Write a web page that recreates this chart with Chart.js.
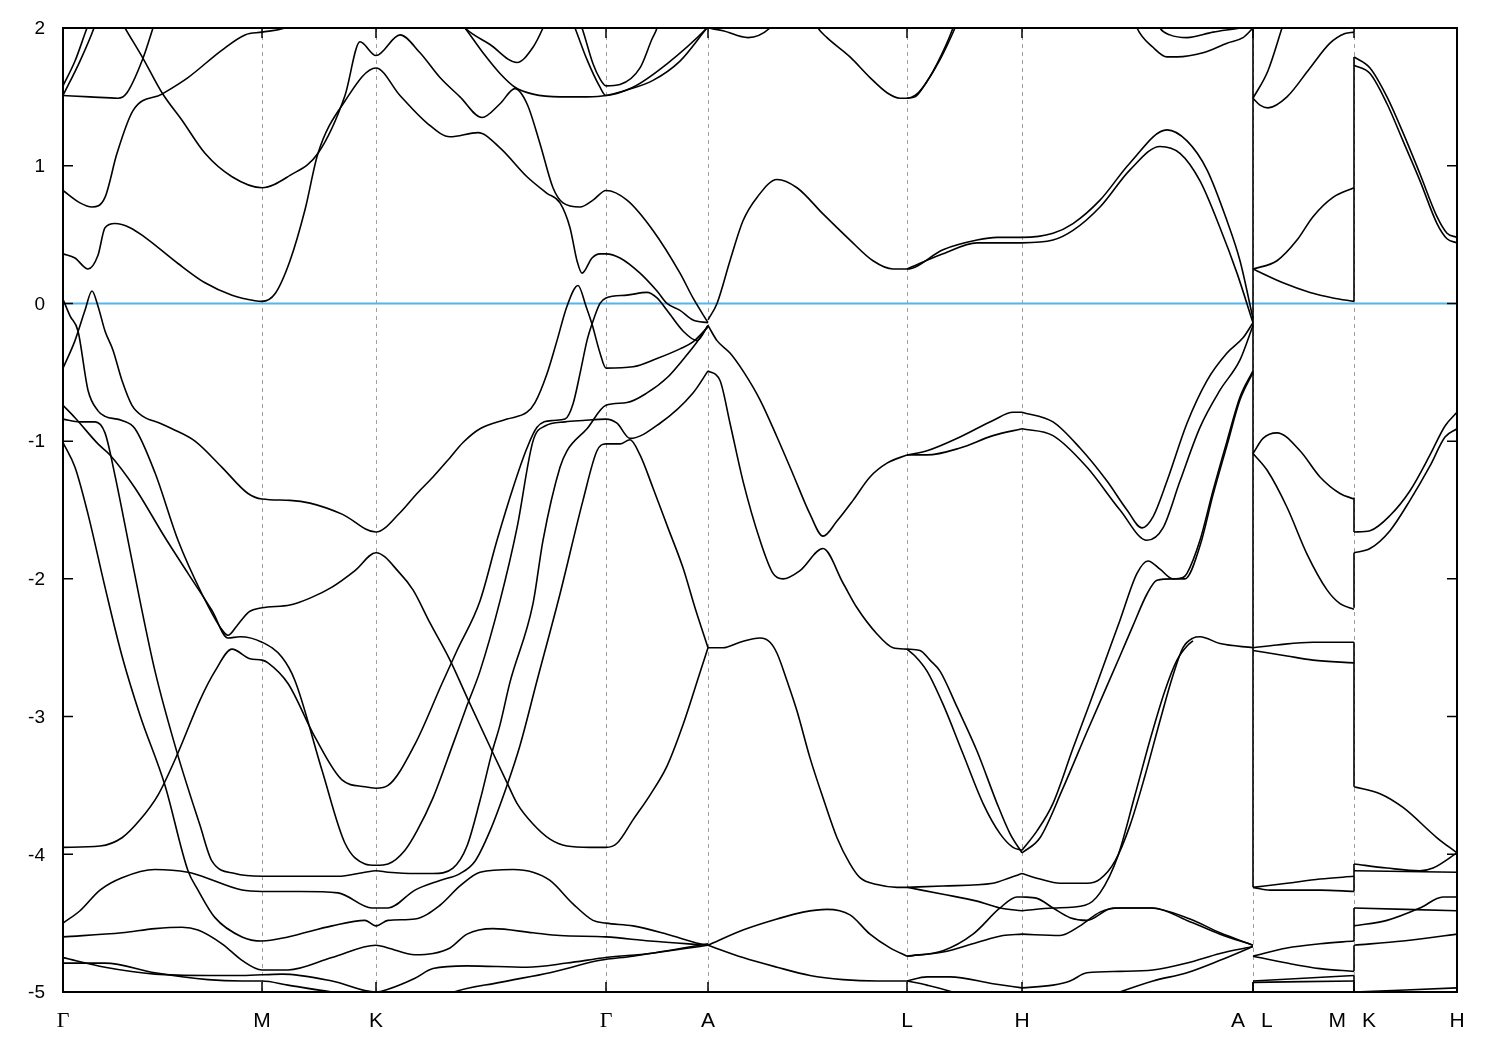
<!DOCTYPE html>
<html>
<head>
<meta charset="utf-8">
<title>Band structure</title>
<script src="https://cdn.jsdelivr.net/npm/chart.js@4.4.1/dist/chart.umd.min.js"></script>
<style>
  html, body { margin: 0; padding: 0; background: #fff; }
  canvas { display: block; }
</style>
</head>
<body>
<canvas id="bands" width="1500" height="1050"></canvas>
<script>
// k-path (arbitrary path units) and labels
const kPoints = [0, 1.99, 3.13, 5.43, 6.45, 8.44, 9.59, 11.90, 12.91, 13.94];
const kLabels = ['Γ', 'M', 'K', 'Γ', 'A', 'L', 'H', 'A L', 'M K', 'H'];
const yTicks = [2, 1, 0, -1, -2, -3, -4, -5];
const fermiLevel = 0;

// discontinuities of the path: energies joined by vertical jumps
const alBreak = 11.90;
const alJumps = [[2.0, -4.24], [-4.93, -5.0]];
const mkBreak = 12.91;
const mkJumps = [[1.79, 0.015], [-1.41, -1.66], [-1.81, -2.21], [-2.46, -3.51],
                 [-4.07, -4.27], [-4.39, -4.63], [-4.66, -4.85], [-4.88, -5.0]];

// bands as [k, E] pairs (eV)
// Γ–M–K–Γ–A, above the Fermi level
const b01 = [[0,1.58],[0.12,1.76],[0.24,2.0],[0.29,2.09]];
const b02 = [[0,1.51],[0.17,1.76],[0.31,2.0],[0.35,2.09]];
const b03 = [[0,1.51],[0.27,1.50],[0.55,1.49],[0.64,1.53],[0.80,1.78],[0.90,2.0],[0.94,2.09]];
const b04 = [[0.55,2.09],[0.62,2.0],[0.80,1.78],[0.99,1.53],[1.19,1.33],[1.42,1.09],[1.69,0.92],[1.99,0.84],
  [2.27,0.93],[2.55,1.09],[2.82,1.51],[2.97,1.90],[3.13,1.80],[3.37,1.95],[3.57,1.82],[3.77,1.64],[3.97,1.50],
  [4.19,1.35],[4.37,1.45],[4.52,1.56],[4.64,1.45],[4.77,1.16],[4.90,0.84],[5.00,0.73],[5.17,0.70],[5.30,0.75],
  [5.43,0.82],[5.64,0.75],[5.90,0.53],[6.17,0.22],[6.30,0.04],[6.45,-0.14]];
const b05 = [[0,0.82],[0.17,0.73],[0.29,0.70],[0.42,0.77],[0.54,1.09],[0.70,1.40],[0.99,1.52],[1.25,1.64],
  [1.59,1.84],[1.82,1.95],[1.99,1.97],[2.22,2.0],[2.37,2.05]];
const b06 = [[0,0.36],[0.12,0.33],[0.25,0.25],[0.35,0.35],[0.42,0.55],[0.52,0.58],[0.67,0.55],[0.82,0.48],
  [1.15,0.29],[1.42,0.15],[1.69,0.06],[1.92,0.02],[1.99,0.015],[2.12,0.07],[2.27,0.31],[2.42,0.68],[2.55,1.09],
  [2.82,1.47],[3.13,1.71],[3.37,1.51],[3.64,1.31],[3.87,1.21],[4.15,1.24],[4.37,1.13],[4.64,0.92],[4.84,0.80],
  [4.97,0.73],[5.07,0.55],[5.14,0.31],[5.19,0.22],[5.29,0.33],[5.37,0.36],[5.43,0.36],[5.57,0.33],[5.77,0.22],
  [5.94,0.09],[6.04,0.0],[6.17,-0.05],[6.30,-0.12],[6.45,-0.14]];
const b07 = [[3.92,2.09],[4.02,2.0],[4.27,1.88],[4.54,1.75],[4.70,1.86],[4.80,2.0],[4.85,2.09]];
const b08 = [[3.92,2.09],[4.02,2.0],[4.20,1.82],[4.37,1.67],[4.52,1.57],[4.70,1.52],[4.97,1.50],[5.24,1.50],
  [5.43,1.51],[5.70,1.57],[6.04,1.74],[6.44,2.0],[6.50,2.05]];
const b09 = [[5.07,2.09],[5.12,2.0],[5.24,1.77],[5.37,1.57],[5.43,1.51],[5.64,1.55],[5.90,1.62],[6.17,1.76],
  [6.44,2.0],[6.50,2.05]];
const b10 = [[5.14,2.09],[5.19,2.0],[5.30,1.74],[5.37,1.63],[5.43,1.58],[5.57,1.59],[5.77,1.71],[5.89,1.92],
  [5.94,2.0],[5.97,2.09]];

// A–L–H–A, above the Fermi level
const b11 = [[6.45,2.0],[6.60,1.98],[6.85,1.93],[7.07,2.0],[7.12,2.05]];
const b12 = [[7.49,2.09],[7.55,2.0],[7.64,1.93],[7.87,1.79],[8.07,1.64],[8.24,1.53],[8.37,1.49],[8.44,1.49],
  [8.52,1.51],[8.60,1.57],[8.74,1.74],[8.90,2.0],[8.94,2.09]];
const b13 = [[8.44,1.49],[8.52,1.50],[8.62,1.59],[8.77,1.77],[8.92,2.0],[8.97,2.09]];
const b14 = [[6.45,-0.12],[6.54,0.0],[6.67,0.31],[6.80,0.60],[6.94,0.77],[7.14,0.90],[7.34,0.84],[7.60,0.65],
  [7.87,0.46],[8.10,0.31],[8.30,0.25],[8.44,0.25],[8.80,0.39],[9.14,0.46],[9.34,0.48],[9.59,0.48],[9.90,0.51],
  [10.10,0.58],[10.37,0.75],[10.67,1.02],[11.04,1.26],[11.24,1.18],[11.44,0.97],[11.64,0.60],[11.77,0.31],
  [11.90,-0.11]];
const b15 = [[8.44,0.25],[8.80,0.36],[9.14,0.44],[9.59,0.44],[9.90,0.46],[10.10,0.53],[10.37,0.70],[10.67,0.97],
  [10.97,1.14],[11.17,1.09],[11.37,0.89],[11.57,0.55],[11.74,0.22],[11.90,-0.14]];
const b41 = [[10.70,2.09],[10.74,2.0],[10.90,1.86],[11.04,1.79],[11.14,1.79],[11.40,1.82],[11.64,1.89],
  [11.80,1.93],[11.90,2.0]];
const b42 = [[10.92,2.09],[10.97,2.0],[11.07,1.95],[11.24,1.93],[11.50,1.97],[11.77,2.0],[11.90,2.02]];

// A–L–H–A, below the Fermi level
const b16 = [[6.45,-0.16],[6.54,-0.27],[6.67,-0.36],[6.80,-0.49],[6.97,-0.70],[7.14,-0.97],[7.30,-1.24],
  [7.47,-1.53],[7.60,-1.69],[7.74,-1.58],[7.90,-1.43],[8.07,-1.26],[8.24,-1.16],[8.44,-1.10]];
const b17 = [[6.45,-0.49],[6.57,-0.56],[6.67,-0.87],[6.80,-1.29],[6.97,-1.72],[7.10,-1.96],[7.20,-2.0],
  [7.37,-1.94],[7.60,-1.78],[7.80,-2.03],[7.94,-2.21],[8.14,-2.40],[8.30,-2.50],[8.44,-2.51]];
const b18 = [[8.44,-1.10],[8.64,-1.07],[8.97,-0.97],[9.30,-0.85],[9.50,-0.79],[9.59,-0.79]];
const b19 = [[8.44,-1.10],[8.64,-1.10],[8.97,-1.05],[9.30,-0.96],[9.59,-0.91]];
const b20 = [[9.59,-0.79],[9.90,-0.86],[10.17,-1.05],[10.44,-1.29],[10.64,-1.50],[10.79,-1.63],[10.90,-1.55],
  [11.04,-1.29],[11.24,-0.87],[11.44,-0.56],[11.64,-0.36],[11.80,-0.25],[11.90,-0.14]];
const b21 = [[9.59,-0.91],[9.90,-0.96],[10.24,-1.19],[10.57,-1.50],[10.84,-1.72],[11.00,-1.63],[11.17,-1.29],
  [11.37,-0.90],[11.57,-0.63],[11.77,-0.41],[11.90,-0.16]];
const b22 = [[8.44,-2.51],[8.52,-2.56],[8.64,-2.67],[8.80,-2.91],[9.00,-3.27],[9.20,-3.63],[9.37,-3.85],
  [9.50,-3.95],[9.59,-3.97]];
const b23 = [[8.44,-2.51],[8.57,-2.52],[8.67,-2.59],[8.77,-2.67],[8.94,-2.93],[9.14,-3.25],[9.34,-3.63],
  [9.47,-3.85],[9.59,-3.99]];
const b24 = [[9.59,-3.97],[9.74,-3.83],[9.90,-3.63],[10.10,-3.23],[10.27,-2.90],[10.40,-2.64],[10.57,-2.30],
  [10.74,-1.96],[10.85,-1.87],[10.97,-1.93],[11.10,-2.0],[11.20,-1.99],[11.24,-1.96],[11.37,-1.72],[11.50,-1.36],
  [11.64,-1.0],[11.77,-0.68],[11.90,-0.49]];
const b25 = [[9.59,-3.99],[9.77,-3.88],[10.00,-3.52],[10.24,-3.11],[10.57,-2.56],[10.70,-2.34],[10.84,-2.11],
  [10.94,-2.01],[11.10,-2.0],[11.22,-2.0],[11.37,-1.76],[11.50,-1.39],[11.64,-1.03],[11.77,-0.70],[11.90,-0.50]];
const b26 = [[6.45,-2.50],[6.60,-2.50],[6.77,-2.46],[6.97,-2.43],[7.07,-2.46],[7.14,-2.54],[7.24,-2.74],
  [7.34,-2.96],[7.47,-3.30],[7.60,-3.59],[7.74,-3.88],[7.87,-4.07],[7.97,-4.17],[8.14,-4.22],[8.34,-4.24],
  [8.44,-4.24]];
const b27 = [[8.44,-4.24],[8.80,-4.23],[9.30,-4.21],[9.47,-4.17],[9.59,-4.14]];
const b28 = [[8.44,-4.24],[8.80,-4.29],[9.14,-4.34],[9.37,-4.39],[9.59,-4.41]];
const b29 = [[6.45,-4.66],[6.80,-4.55],[7.14,-4.47],[7.40,-4.42],[7.64,-4.40],[7.87,-4.44],[8.07,-4.58],
  [8.27,-4.68],[8.44,-4.74]];
const b30 = [[6.45,-4.66],[6.80,-4.75],[7.14,-4.82],[7.47,-4.88],[7.80,-4.91],[8.14,-4.92],[8.44,-4.92]];
const b31 = [[8.44,-4.74],[8.80,-4.70],[9.10,-4.58],[9.37,-4.39],[9.54,-4.31],[9.59,-4.31]];
const b32 = [[8.44,-4.74],[8.80,-4.71],[9.14,-4.64],[9.40,-4.59],[9.59,-4.58]];
const b33 = [[8.44,-4.92],[8.64,-4.89],[8.87,-4.89],[9.30,-4.94],[9.59,-4.97]];
const b34 = [[8.44,-4.92],[8.64,-4.95],[8.94,-5.01],[9.07,-5.05]];
const b35 = [[9.59,-4.14],[9.77,-4.18],[9.97,-4.21],[10.24,-4.21],[10.37,-4.18],[10.52,-4.05],[10.67,-3.79],
  [10.82,-3.43],[10.97,-3.03],[11.10,-2.70],[11.20,-2.50],[11.30,-2.43],[11.37,-2.42],[11.57,-2.47],[11.90,-2.50]];
const b36 = [[9.59,-4.41],[9.90,-4.39],[10.22,-4.37],[10.37,-4.28],[10.55,-4.01],[10.72,-3.57],[10.87,-3.17],
  [11.02,-2.81],[11.14,-2.59],[11.25,-2.48],[11.30,-2.45]];
const b37 = [[9.59,-4.31],[9.74,-4.32],[9.90,-4.39],[10.07,-4.46],[10.24,-4.48],[10.50,-4.39],[10.90,-4.39],
  [11.24,-4.48],[11.57,-4.58],[11.90,-4.66]];
const b38 = [[9.59,-4.58],[9.97,-4.59],[10.17,-4.52],[10.37,-4.42],[10.57,-4.39],[10.87,-4.39],[11.27,-4.47],
  [11.57,-4.57],[11.90,-4.66]];
const b39 = [[9.59,-4.97],[9.90,-4.95],[10.07,-4.92],[10.24,-4.86],[10.57,-4.85],[10.90,-4.84],[11.24,-4.79],
  [11.57,-4.72],[11.90,-4.67]];
const b40 = [[10.37,-5.05],[10.90,-4.92],[11.24,-4.86],[11.57,-4.77],[11.90,-4.67]];

// L–M
const b43 = [[11.90,1.49],[11.97,1.44],[12.05,1.42],[12.24,1.50],[12.47,1.71],[12.67,1.89],[12.82,1.96],[12.91,1.97]];
const b44 = [[11.90,1.49],[12.05,1.69],[12.19,2.0],[12.23,2.09]];
const b45 = [[11.90,0.25],[12.14,0.31],[12.34,0.46],[12.50,0.63],[12.70,0.77],[12.91,0.84]];
const b46 = [[11.90,0.25],[12.20,0.15],[12.47,0.08],[12.70,0.04],[12.91,0.015]];
const b47 = [[11.90,-1.09],[12.00,-0.98],[12.14,-0.94],[12.37,-1.07],[12.57,-1.26],[12.77,-1.38],[12.91,-1.42]];
const b48 = [[11.90,-1.09],[12.04,-1.21],[12.24,-1.48],[12.44,-1.82],[12.64,-2.08],[12.77,-2.18],[12.91,-2.22]];
const b49 = [[11.90,-2.50],[12.14,-2.48],[12.50,-2.46],[12.91,-2.46]];
const b50 = [[11.90,-2.52],[12.24,-2.56],[12.50,-2.59],[12.91,-2.61]];
const b51 = [[11.90,-4.24],[12.24,-4.21],[12.57,-4.18],[12.91,-4.16]];
const b52 = [[11.90,-4.24],[12.07,-4.26],[12.57,-4.26],[12.91,-4.27]];
const b53 = [[11.90,-4.74],[12.24,-4.68],[12.57,-4.65],[12.91,-4.63]];
const b54 = [[11.90,-4.74],[12.24,-4.79],[12.57,-4.83],[12.91,-4.85]];
const b55 = [[11.90,-4.92],[12.91,-4.88]];
const b56 = [[11.90,-4.93],[12.91,-4.92]];

// K–H
const b57 = [[12.91,1.79],[13.07,1.71],[13.24,1.50],[13.40,1.24],[13.57,0.94],[13.74,0.63],[13.84,0.51],[13.94,0.48]];
const b58 = [[12.91,1.73],[13.07,1.67],[13.24,1.45],[13.40,1.18],[13.57,0.89],[13.74,0.58],[13.84,0.47],[13.94,0.44]];
const b59 = [[12.91,-1.66],[13.07,-1.65],[13.27,-1.54],[13.47,-1.36],[13.67,-1.10],[13.82,-0.89],[13.94,-0.79]];
const b60 = [[12.91,-1.81],[13.07,-1.78],[13.27,-1.65],[13.47,-1.43],[13.67,-1.18],[13.82,-0.97],[13.94,-0.91]];
const b61 = [[12.91,-3.51],[13.17,-3.56],[13.40,-3.66],[13.74,-3.88],[13.94,-3.99]];
const b62 = [[12.91,-4.07],[13.24,-4.10],[13.57,-4.12],[13.70,-4.10],[13.94,-3.99]];
const b63 = [[12.91,-4.12],[13.94,-4.13]];
const b64 = [[12.91,-4.39],[13.94,-4.41]];
const b65 = [[12.91,-4.52],[13.24,-4.48],[13.57,-4.39],[13.80,-4.31],[13.94,-4.31]];
const b66 = [[12.91,-4.66],[13.40,-4.63],[13.94,-4.58]];
const b67 = [[12.91,-5.0],[13.94,-4.97]];

// Γ–M–K–Γ–A, below the Fermi level
const b68 = [[0,-0.47],[0.12,-0.27],[0.22,-0.05],[0.29,0.09],[0.35,-0.02],[0.42,-0.20],[0.50,-0.34],[0.59,-0.56],
  [0.69,-0.74],[0.80,-0.82],[0.97,-0.87],[1.09,-0.91],[1.32,-1.0],[1.59,-1.19],[1.85,-1.38],[1.99,-1.42],
  [2.27,-1.43],[2.47,-1.45],[2.79,-1.53],[3.13,-1.66],[3.37,-1.52],[3.54,-1.38],[3.70,-1.26],[3.87,-1.12],
  [4.00,-1.01],[4.17,-0.91],[4.44,-0.84],[4.64,-0.79],[4.72,-0.72],[4.84,-0.51],[4.94,-0.27],[5.04,-0.02],
  [5.15,0.13],[5.23,-0.02],[5.29,-0.15],[5.37,-0.36],[5.43,-0.47],[5.70,-0.46],[5.94,-0.40],[6.17,-0.33],
  [6.30,-0.28],[6.45,-0.17]];
const b69 = [[0,0.03],[0.07,-0.09],[0.15,-0.20],[0.25,-0.63],[0.35,-0.78],[0.42,-0.82],[0.59,-0.85],[0.72,-0.91],
  [0.92,-1.23],[1.15,-1.72],[1.39,-2.11],[1.58,-2.36],[1.65,-2.41],[1.74,-2.34],[1.86,-2.24],[1.99,-2.21],
  [2.27,-2.19],[2.47,-2.14],[2.69,-2.06],[2.92,-1.94],[3.13,-1.81],[3.37,-1.96],[3.50,-2.08],[3.67,-2.32],
  [3.87,-2.59],[4.04,-2.86],[4.29,-3.25],[4.44,-3.48],[4.54,-3.63],[4.70,-3.78],[4.87,-3.89],[5.04,-3.94],
  [5.27,-3.95],[5.43,-3.95],[5.54,-3.92],[5.70,-3.75],[5.87,-3.57],[6.04,-3.36],[6.20,-3.06],[6.37,-2.68],
  [6.45,-2.50]];
const b70 = [[0,-0.74],[0.12,-0.83],[0.35,-1.02],[0.47,-1.10],[0.72,-1.34],[1.02,-1.70],[1.25,-1.96],[1.49,-2.23],
  [1.65,-2.43],[1.77,-2.42],[1.99,-2.46],[2.19,-2.57],[2.32,-2.74],[2.59,-3.39],[2.82,-3.92],[3.02,-4.07],
  [3.13,-4.08],[3.25,-4.07],[3.42,-3.97],[3.54,-3.83],[3.70,-3.59],[3.90,-3.20],[4.04,-2.92],[4.17,-2.67],
  [4.37,-2.16],[4.54,-1.63],[4.70,-1.0],[4.82,-0.89],[5.02,-0.86],[5.20,-0.85],[5.43,-0.84],[5.54,-0.87],
  [5.67,-0.98],[5.97,-0.87],[6.30,-0.65],[6.45,-0.49]];
const b71 = [[0,-0.84],[0.17,-0.86],[0.32,-0.86],[0.42,-0.94],[0.52,-1.25],[0.62,-1.61],[0.77,-2.16],[0.92,-2.67],
  [1.14,-3.26],[1.37,-3.79],[1.49,-4.05],[1.72,-4.14],[1.99,-4.16],[2.37,-4.16],[2.75,-4.16],[3.02,-4.13],
  [3.13,-4.12],[3.25,-4.13],[3.52,-4.14],[3.70,-4.14],[3.90,-4.10],[4.04,-3.94],[4.17,-3.61],[4.29,-3.26],
  [4.37,-3.06],[4.47,-2.75],[4.70,-2.18],[4.80,-1.72],[4.97,-1.19],[5.04,-1.07],[5.24,-0.91],[5.43,-0.74],
  [5.64,-0.72],[5.84,-0.65],[6.04,-0.54],[6.22,-0.39],[6.34,-0.28],[6.45,-0.16]];
const b72 = [[0,-1.01],[0.12,-1.19],[0.25,-1.53],[0.42,-2.06],[0.59,-2.56],[0.77,-2.99],[1.02,-3.50],[1.25,-4.12],
  [1.35,-4.26],[1.52,-4.46],[1.79,-4.60],[1.99,-4.63],[2.25,-4.60],[2.69,-4.52],[3.02,-4.48],[3.13,-4.52],
  [3.25,-4.48],[3.52,-4.47],[3.77,-4.37],[3.97,-4.23],[4.17,-4.13],[4.50,-4.11],[4.70,-4.13],[4.87,-4.19],
  [5.10,-4.36],[5.30,-4.48],[5.43,-4.50],[5.70,-4.52],[6.04,-4.58],[6.37,-4.65],[6.45,-4.66]];
const b73 = [[0,-3.95],[0.37,-3.94],[0.59,-3.88],[0.77,-3.75],[0.95,-3.57],[1.14,-3.28],[1.37,-2.88],[1.52,-2.67],
  [1.69,-2.51],[1.87,-2.58],[1.99,-2.59],[2.05,-2.61],[2.25,-2.76],[2.52,-3.15],[2.79,-3.46],[3.02,-3.51],
  [3.13,-3.52],[3.25,-3.50],[3.52,-3.20],[3.79,-2.76],[3.94,-2.52],[4.17,-2.16],[4.34,-1.72],[4.50,-1.34],
  [4.64,-1.05],[4.74,-0.90],[4.90,-0.85],[5.02,-0.84],[5.10,-0.73],[5.17,-0.51],[5.24,-0.27],[5.29,-0.15],
  [5.37,0.0],[5.43,0.04],[5.64,0.06],[5.84,0.08],[5.94,0.04],[6.04,-0.05],[6.20,-0.20],[6.34,-0.27],[6.45,-0.16]];
const b74 = [[0,-4.50],[0.17,-4.41],[0.37,-4.26],[0.59,-4.17],[0.92,-4.11],[1.25,-4.13],[1.35,-4.15],[1.79,-4.26],
  [1.99,-4.27],[2.37,-4.27],[2.75,-4.28],[3.09,-4.39],[3.25,-4.39],[3.52,-4.26],[3.77,-4.19],[3.97,-4.14],
  [4.12,-4.05],[4.27,-3.83],[4.44,-3.50],[4.57,-3.21],[4.74,-2.74],[4.97,-2.11],[5.20,-1.43],[5.34,-1.07],
  [5.43,-1.02],[5.57,-1.02],[5.67,-0.99],[5.77,-1.10],[5.90,-1.34],[6.05,-1.63],[6.20,-1.92],[6.32,-2.21],
  [6.45,-2.50]];
const b75 = [[0,-4.60],[0.59,-4.57],[0.92,-4.54],[1.19,-4.53],[1.35,-4.55],[1.59,-4.65],[1.79,-4.77],[1.99,-4.84],
  [2.25,-4.84],[2.69,-4.75],[3.13,-4.66],[3.25,-4.68],[3.52,-4.73],[3.70,-4.72],[3.87,-4.68],[4.04,-4.58],
  [4.30,-4.54],[4.70,-4.57],[4.97,-4.59],[5.43,-4.60],[5.87,-4.63],[6.45,-4.66]];
const b76 = [[0,-4.75],[0.42,-4.82],[0.92,-4.87],[1.45,-4.88],[1.79,-4.88],[2.19,-4.87],[2.69,-4.92],[3.13,-5.0],
  [3.25,-4.98],[3.52,-4.90],[3.70,-4.83],[4.04,-4.81],[4.64,-4.82],[5.04,-4.79],[5.43,-4.75],[5.87,-4.72],
  [6.45,-4.66]];
const b77 = [[0,-4.79],[0.42,-4.79],[0.92,-4.86],[1.45,-4.91],[1.79,-4.92],[1.99,-4.92],[2.25,-4.95],[2.69,-5.0],
  [3.09,-5.03],[3.22,-5.04]];
const b78 = [[3.77,-5.05],[3.87,-5.01],[4.37,-4.93],[4.87,-4.86],[5.37,-4.77],[5.70,-4.74],[6.45,-4.65]];

const bands = [b01, b02, b03, b04, b05, b06, b07, b08, b09, b10, b11, b12, b13, b14, b15, b16, b17, b18, b19,
  b20, b21, b22, b23, b24, b25, b26, b27, b28, b29, b30, b31, b32, b33, b34, b35, b36, b37, b38, b39, b40, b41,
  b42, b43, b44, b45, b46, b47, b48, b49, b50, b51, b52, b53, b54, b55, b56, b57, b58, b59, b60, b61, b62, b63,
  b64, b65, b66, b67, b68, b69, b70, b71, b72, b73, b74, b75, b76, b77, b78];

const toXY = arr => arr.map(p => ({ x: p[0], y: p[1] }));
const lineStyle = { showLine: true, borderColor: '#000000', borderWidth: 1.6, pointRadius: 0, clip: 0 };

const datasets = bands.map(b => Object.assign({ data: toXY(b), cubicInterpolationMode: 'monotone' }, lineStyle));

// vertical jumps at the two path discontinuities
alJumps.forEach(j => datasets.push(Object.assign({
  data: [{ x: alBreak, y: j[0] }, { x: alBreak, y: j[1] }], tension: 0 }, lineStyle)));
mkJumps.forEach(j => datasets.push(Object.assign({
  data: [{ x: mkBreak, y: j[0] }, { x: mkBreak, y: j[1] }], tension: 0 }, lineStyle)));

// Fermi level
datasets.push({
  data: [{ x: kPoints[0], y: fermiLevel }, { x: kPoints[kPoints.length - 1], y: fermiLevel }],
  showLine: true, borderColor: '#56b4e9', borderWidth: 2, pointRadius: 0, tension: 0, clip: 0
});

// frame, inward tick marks and tick labels (gnuplot look)
const decor = {
  id: 'decor',
  afterDraw(chart) {
    const { ctx, chartArea: a, scales: { x, y } } = chart;
    ctx.save();
    ctx.strokeStyle = '#000';
    ctx.fillStyle = '#000';
    ctx.lineWidth = 2;
    ctx.strokeRect(a.left, a.top, a.right - a.left, a.bottom - a.top);

    ctx.lineWidth = 1.5;
    ctx.font = '19px "Liberation Sans", Arial, sans-serif';
    ctx.textAlign = 'right';
    ctx.textBaseline = 'middle';
    yTicks.forEach(v => {
      const py = y.getPixelForValue(v);
      ctx.beginPath();
      ctx.moveTo(a.left, py); ctx.lineTo(a.left + 10, py);
      ctx.moveTo(a.right, py); ctx.lineTo(a.right - 10, py);
      ctx.stroke();
      ctx.fillText(String(v), a.left - 18, py + 1);
    });

    const ly = a.bottom + 29;
    const fontFor = t => t === 'Γ' ? '22px "Liberation Serif", "Times New Roman", serif'
                                   : '21px "Liberation Sans", Arial, sans-serif';
    kPoints.forEach((k, i) => {
      const px = x.getPixelForValue(k);
      ctx.beginPath();
      ctx.moveTo(px, a.bottom); ctx.lineTo(px, a.bottom - 10);
      ctx.moveTo(px, a.top); ctx.lineTo(px, a.top + 10);
      ctx.stroke();
      const lab = kLabels[i];
      const parts = lab.split(' ');
      if (parts.length === 2) {
        ctx.font = fontFor(parts[0]); ctx.textAlign = 'right';
        ctx.fillText(parts[0], px - 8, ly);
        ctx.font = fontFor(parts[1]); ctx.textAlign = 'left';
        ctx.fillText(parts[1], px + 8, ly);
      } else {
        ctx.font = fontFor(lab); ctx.textAlign = 'center';
        ctx.fillText(lab, px, ly);
      }
    });
    ctx.restore();
  }
};

new Chart(document.getElementById('bands').getContext('2d'), {
  type: 'scatter',
  data: { datasets },
  options: {
    responsive: false,
    devicePixelRatio: 1,
    animation: false,
    events: [],
    layout: { padding: { left: 63, right: 43, top: 28, bottom: 58 } },
    plugins: { legend: { display: false }, tooltip: { enabled: false } },
    scales: {
      x: {
        type: 'linear',
        min: kPoints[0],
        max: kPoints[kPoints.length - 1],
        afterBuildTicks: s => { s.ticks = kPoints.map(v => ({ value: v })); },
        ticks: { display: false },
        grid: { color: '#a0a0a0', lineWidth: 1, drawTicks: false },
        border: { display: false, dash: [4, 4] }
      },
      y: {
        type: 'linear',
        min: -5,
        max: 2,
        ticks: { display: false },
        grid: { display: false, drawTicks: false },
        border: { display: false }
      }
    }
  },
  plugins: [decor]
});
</script>
</body>
</html>
